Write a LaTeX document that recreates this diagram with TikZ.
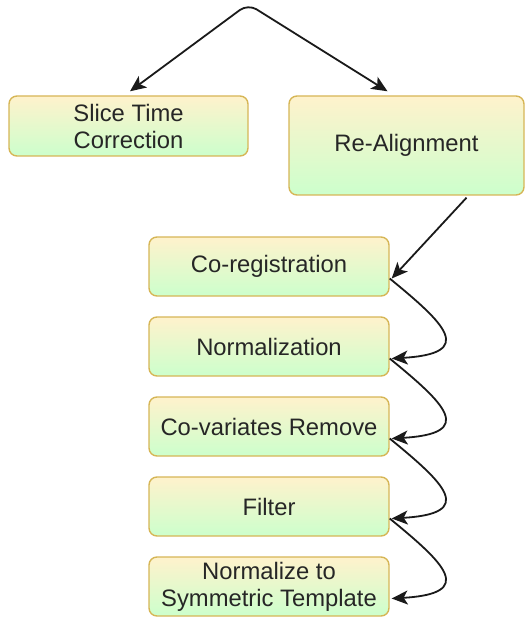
\documentclass[tikz,border=0pt]{standalone}
\usepackage{fontspec}
\setmainfont{Liberation Sans}
\usepackage{tikz}
\usetikzlibrary{positioning,
                calc,
                arrows.meta}
\definecolor{boxtop}{HTML}{FFF2CC}
\definecolor{boxbottom}{HTML}{CCFFCC}
\definecolor{boxedge}{HTML}{D6B656}
\definecolor{linkdark}{HTML}{1A1A1A}

\begin{document}
\begin{tikzpicture}[x=0.5pt,y=-0.5pt]  % <-- pixel grid, y pointing down

\tikzset{
flowtip/.tip={Stealth[length=8pt,width=7pt,inset=2pt]},
procbox/.style={
draw=boxedge,
line width=0.7pt,
rounded corners=4pt,
top color=boxtop,
bottom color=boxbottom,
minimum width=120pt,
minimum height=29.5pt,
inner sep=0pt,
align=center,
text=black!85,
font=\fontsize{11.9}{13.5}\selectfont
},
flowarrow/.style={
draw=linkdark,
line width=0.9pt,
-flowtip
}
}

\useasboundingbox (0,0) rectangle (525,620);

%----------------------------------
% FIRST STAGE
%----------------------------------

\node[procbox,minimum width=119.5pt,minimum height=30pt] (slice) at (128.5,126) {Slice Time\\Correction};
\node[procbox,minimum width=117.5pt,minimum height=49.5pt] (realign) at (406.5,145.5) {Re-Alignment};

\coordinate (apex) at (248,4);

%----------------------------------
% PROCESSING CHAIN
%----------------------------------

\node[procbox] (coreg) at (269,266.5) {Co-registration};
\node[procbox] (norm) at (269,346.5) {Normalization};
\node[procbox] (covar) at (269,426.5) {Co-variates Remove};
\node[procbox] (filt) at (269,506.5) {Filter};
\node[procbox] (symtpl) at (269,586.5) {Normalize to\\Symmetric Template};

%----------------------------------
% CONNECTORS
%----------------------------------

\draw[flowarrow,flowtip-flowtip,rounded corners=5pt]
  ($(slice.north)+(1.5,-4)$) -- (apex) -- ($(realign.north)+(-19,-4)$);

\draw[flowarrow] ($(realign.south)+(60,2)$) -- ($(coreg.east)+(2,12)$);

\draw[flowarrow] ($(coreg.east)+(0,12)$) .. controls ($(coreg.east)+(55,57)$) and ($(norm.east)+(87,7)$) .. ($(norm.east)+(2,12)$);
\draw[flowarrow] ($(norm.east)+(0,12)$) .. controls ($(norm.east)+(55,57)$) and ($(covar.east)+(87,7)$) .. ($(covar.east)+(2,12)$);
\draw[flowarrow] ($(covar.east)+(0,12)$) .. controls ($(covar.east)+(55,57)$) and ($(filt.east)+(87,7)$) .. ($(filt.east)+(2,12)$);
\draw[flowarrow] ($(filt.east)+(0,12)$) .. controls ($(filt.east)+(55,57)$) and ($(symtpl.east)+(87,7)$) .. ($(symtpl.east)+(2,12)$);

\end{tikzpicture}
\end{document}
